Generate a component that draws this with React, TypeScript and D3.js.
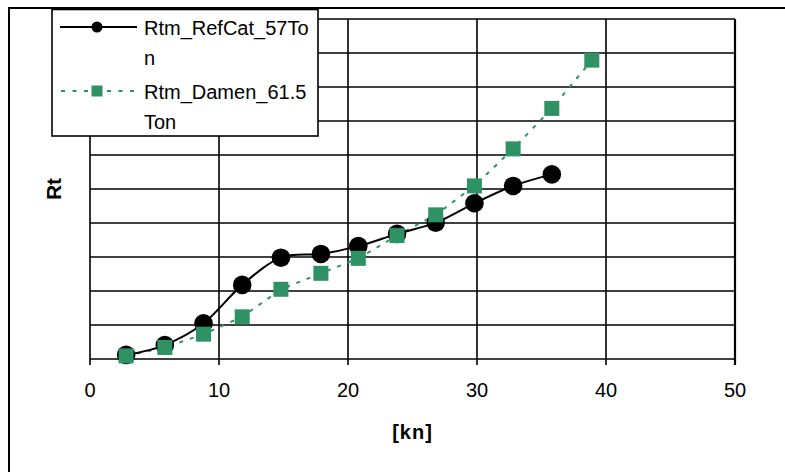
import React from "react";
import * as d3 from "d3";

const xTicks = [0, 10, 20, 30, 40, 50];
const yGrid = [0, 1, 2, 3, 4, 5, 6, 7, 8, 9, 10];

const refCatSpeed = [2.8, 5.8, 8.8, 11.8, 14.8, 17.9, 20.8, 23.8, 26.8, 29.8, 32.8, 35.8];
const refCatRt = [0.12, 0.41, 1.05, 2.18, 2.98, 3.09, 3.32, 3.68, 4.01, 4.58, 5.09, 5.43];

const damenSpeed = [2.8, 5.8, 8.8, 11.8, 14.8, 17.9, 20.8, 23.8, 26.8, 29.8, 32.8, 35.8, 38.9];
const damenRt = [0.09, 0.34, 0.73, 1.24, 2.05, 2.52, 2.96, 3.63, 4.24, 5.09, 6.18, 7.37, 8.79];

const seriesNames = ["Rtm_RefCat_57Ton", "Rtm_Damen_61.5Ton"];
const legendLines = [["Rtm_RefCat_57To", "n"], ["Rtm_Damen_61.5", "Ton"]];

const GREEN = "#2e9264";
const FONT = "'Liberation Sans', Arial, sans-serif";

export default function App() {
  const W = 785, H = 472;
  const left = 90, right = 735, top = 19, bottom = 359;
  const x = d3.scaleLinear().domain([0, 50]).range([left, right]);
  const y = d3.scaleLinear().domain([0, 10]).range([bottom, top]);

  const ref = refCatSpeed.map((s, i) => [s, refCatRt[i]] as [number, number]);
  const dam = damenSpeed.map((s, i) => [s, damenRt[i]] as [number, number]);

  const smooth = d3.line<[number, number]>()
    .x(d => x(d[0])).y(d => y(d[1]))
    .curve(d3.curveCatmullRom.alpha(0));
  const straight = d3.line<[number, number]>()
    .x(d => x(d[0])).y(d => y(d[1]));

  const sq = 15;
  return (
    <svg width={W} height={H} style={{ position: "fixed", left: 0, top: 0, background: "#fff" }}
      fontFamily={FONT}>
      <rect x={0} y={0} width={W} height={H} fill="#fff" />
      {/* outer chart border */}
      <rect x={9} y={8} width={W + 10} height={H + 10} fill="none" stroke="#000" strokeWidth={2} />
      {/* horizontal grid */}
      {yGrid.map(v => (
        <line key={"h" + v} x1={left} x2={right} y1={y(v)} y2={y(v)} stroke="#000" strokeWidth={1.6} />
      ))}
      {/* vertical grid */}
      {xTicks.map(v => (
        <line key={"v" + v} x1={x(v)} x2={x(v)} y1={top} y2={bottom + 6} stroke="#000" strokeWidth={1.6} />
      ))}
      <line x1={right} x2={right} y1={top} y2={bottom + 6} stroke="#000" strokeWidth={2.2} />
      {/* tick labels */}
      {xTicks.map(v => (
        <text key={"t" + v} x={x(v)} y={397} fontSize={20} textAnchor="middle" fill="#000">{v}</text>
      ))}
      <text x={(left + right) / 2} y={439} fontSize={20} fontWeight="bold" textAnchor="middle" letterSpacing={1}>[kn]</text>
      <text transform={`translate(61,${(top + bottom) / 2}) rotate(-90)`} fontSize={21} fontWeight="bold" textAnchor="middle">Rt</text>

      {/* series */}
      <path d={straight(dam) || ""} fill="none" stroke={GREEN} strokeWidth={2} strokeDasharray="4 7" />
      <path d={smooth(ref) || ""} fill="none" stroke="#000" strokeWidth={2} />
      {ref.map((d, i) => (
        <circle key={"c" + i} cx={x(d[0])} cy={y(d[1])} r={9.3} fill="#000" />
      ))}
      {dam.map((d, i) => (
        <rect key={"s" + i} x={x(d[0]) - sq / 2} y={y(d[1]) - sq / 2} width={sq} height={sq} fill={GREEN} />
      ))}

      {/* legend */}
      <g>
        <rect x={52} y={9.5} width={266} height={126.5} fill="#fff" stroke="#000" strokeWidth={1.6} />
        <line x1={60} x2={137} y1={27} y2={27} stroke="#000" strokeWidth={2} />
        <circle cx={97} cy={27} r={5.5} fill="#000" />
        <line x1={60} x2={137} y1={91} y2={91} stroke={GREEN} strokeWidth={2} strokeDasharray="4 7.5" strokeDashoffset={-1} />
        <rect x={91.5} y={85.5} width={11} height={11} fill={GREEN} />
        {legendLines.map((lines, i) => (
          <text key={"l" + i} x={144} y={34.5 + i * 64} fontSize={20} fill="#000" aria-label={seriesNames[i]}>
            <tspan x={144}>{lines[0]}</tspan>
            <tspan x={144} dy={30}>{lines[1]}</tspan>
          </text>
        ))}
      </g>
    </svg>
  );
}
